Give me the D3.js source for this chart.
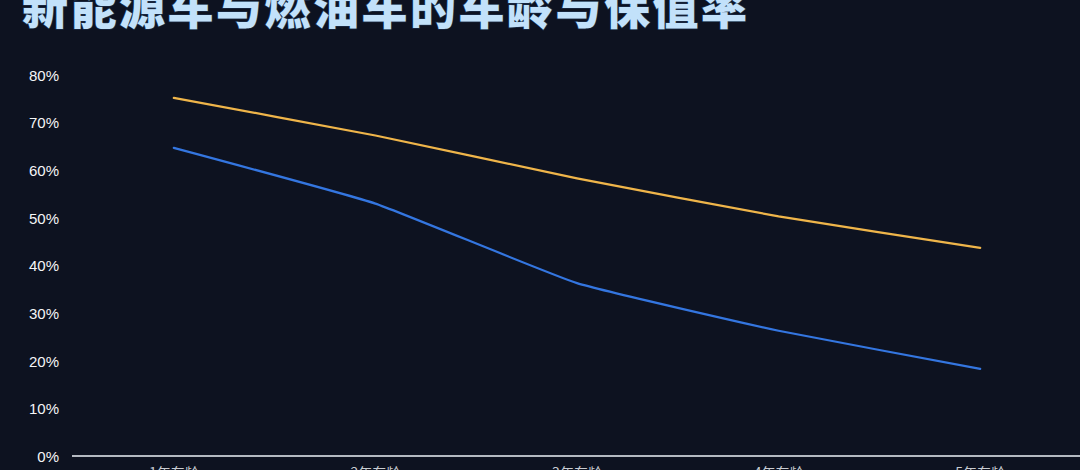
<!DOCTYPE html>
<html><head><meta charset="utf-8">
<script src="https://cdn.jsdelivr.net/npm/d3@7/dist/d3.min.js"></script>
<style>
html,body{margin:0;padding:0;background:#0d1220;}
svg{display:block;}
</style></head>
<body>
<svg id="c" width="1080" height="470"></svg>
<script>
const title = "新能源车与燃油车的车龄与保值率";
const categories = ["1年车龄","2年车龄","3年车龄","4年车龄","5年车龄"];
const fuelValues = [75.2, 67.3, 58.3, 50.3, 43.7];
const nevValues = [64.7, 53.0, 36.3, 26.3, 18.3];
const yTicks = [0,10,20,30,40,50,60,70,80];

const svg = d3.select("#c");
const W = 1080, H = 470;
svg.append("rect").attr("width",W).attr("height",H).attr("fill","#0d1220");

const x = d3.scaleBand().domain(categories).range([73, 1081]);
const y = d3.scaleLinear().domain([0,80]).range([456, 75]);

// title
svg.append("text").attr("x",22).attr("y",24)
  .attr("font-family","'Noto Sans CJK SC'").attr("font-weight",900)
  .attr("font-size",46).attr("letter-spacing",2.5)
  .attr("fill","#c2e1fa").attr("stroke","#1a2a44").attr("stroke-width",1.5).attr("paint-order","stroke")
  .text(title);

// y axis labels
const yAxis = d3.axisLeft(y).tickValues(yTicks).tickFormat(d=>d+"%").tickSize(0).tickPadding(0);
const gy = svg.append("g").attr("transform","translate(59,0)").call(yAxis);
gy.select(".domain").remove();
gy.selectAll("text").attr("fill","#f4f5f7").attr("font-size",15)
  .attr("font-family","'Liberation Sans', Arial, sans-serif").attr("dy","0.35em");

// x axis
const xAxis = d3.axisBottom(x).tickSize(0).tickPadding(12);
const gx = svg.append("g").attr("transform","translate(0,456)").call(xAxis);
gx.select(".domain").attr("stroke","#b4b9c1").attr("stroke-width",2).attr("d","M72,0H1080");
gx.selectAll("text").attr("fill","#c8ccd2").attr("font-size",14)
  .attr("font-family","'Noto Sans CJK SC'");

const line = d3.line().x((d,i)=>x(categories[i])+x.bandwidth()/2).y(d=>y(d)).curve(d3.curveCardinal.tension(0.65));

svg.append("path").datum(fuelValues).attr("d",line).attr("fill","none")
  .attr("stroke","#efb54a").attr("stroke-width",2.2).attr("stroke-linecap","round");
svg.append("path").datum(nevValues).attr("d",line).attr("fill","none")
  .attr("stroke","#3476e0").attr("stroke-width",2.2).attr("stroke-linecap","round");
</script>
</body></html>
